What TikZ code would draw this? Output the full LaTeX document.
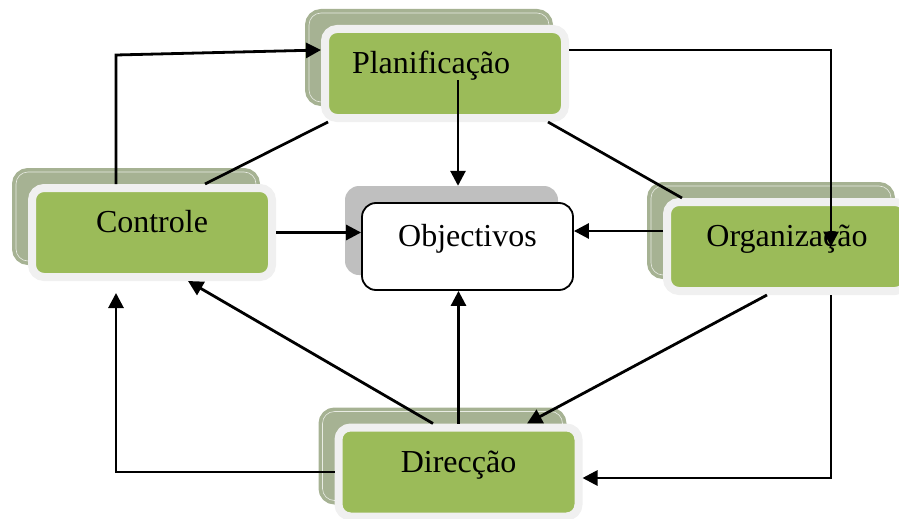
\documentclass[tikz,border=0pt]{standalone}
\usepackage{fontspec}
\setmainfont{Liberation Serif}
\usepackage{xcolor}
\usepackage{tikz}
\usetikzlibrary{arrows.meta,positioning}
\definecolor{cardgreen}{HTML}{9BBB59}
\definecolor{cardrim}{HTML}{F0F0F0}
\definecolor{backgreen}{HTML}{A6B293}
\definecolor{backgray}{HTML}{BFBFBF}

\begin{document}
\begin{tikzpicture}[x=1pt,y=-1pt,
  card/.style={draw=cardrim,line width=8pt,fill=cardgreen,rounded corners=12pt,minimum width=240pt,minimum height=89pt,
    font=\fontsize{32pt}{38pt}\selectfont,text height=24pt,text depth=24pt},
  back/.style={draw=backgreen,double=white!75!backgreen,double distance=0.6pt,line width=3.7pt,fill=backgreen,rounded corners=12pt,
    minimum width=240pt,minimum height=89pt},
  goal/.style={draw,line width=1.8pt,fill=white,rounded corners=14pt,minimum width=211pt,minimum height=87pt,
    font=\fontsize{32pt}{38pt}\selectfont,text height=24pt,text depth=24pt},
  arr/.style={-{Triangle[length=15pt,width=15pt]},line width=2.8pt},
  ln/.style={line width=2.7pt}]
  \useasboundingbox (0,0) rectangle (899,519);
  % shadows
  \node[back] (plan-bg) at (429,57.5) {};
  \node[back] (ctrl-bg) at (136,216.5) {};
  \node[back] (org-bg) at (771,230.5) {};
  \node[back] (dir-bg) at (442.5,456) {};
  \node[fill=backgray,rounded corners=14pt,minimum width=213pt,minimum height=89pt] (obj-bg) at (451.5,230.5) {};
  % boxes
  \node[card,text width=186pt,align=left] (plan) at (445,73.5) {Planificação};
  \node[card] (ctrl) at (152,232.5) {Controle};
  \node[card] (org) at (787,246.5) {Organização};
  \node[card] (dir) at (458.5,472) {Direcção};
  \node[goal] (obj) at (467.5,246.5) {Objectivos};
  % bends
  \coordinate (c1) at (116,55);
  \coordinate (c2) at (831,50);
  \coordinate (c3) at (831,478);
  \coordinate (c4) at (116,472);
  \coordinate (c5) at (116,293);
  % connectors
  \draw[arr] (c1 |- ctrl.north) -- (c1) -- ([yshift=23.5pt]plan.west);
  \draw[arr] (c2 -| plan.east) -- (c2) -- (c2 |- org.center);
  \draw[arr] ([xshift=13pt,yshift=-6.5pt]plan.center) -- ([xshift=6.5pt]obj-bg.north);
  \draw[ln] ([xshift=-117pt]plan.south) -- ([xshift=53pt]ctrl.north);
  \draw[ln] ([xshift=103pt]plan.south) -- ([xshift=-105pt]org.north);
  \draw[arr] (ctrl.east) -- (ctrl.east -| obj.west);
  \draw[arr] ([yshift=15.5pt]org.west) -- ([yshift=15.5pt]obj.east);
  \draw[arr] (dir.north) -- (dir.north |- obj.south);
  \draw[arr] ([xshift=-25.5pt]dir.north) -- ([xshift=36pt]ctrl.south);
  \draw[arr] ([xshift=-20pt]org.south) -- ([xshift=68.5pt]dir.north);
  \draw[arr] (c3 |- org.south) -- (c3) -- (c3 -| dir.east);
  \draw[arr] (c4 -| dir.west) -- (c4) -- (c5);
\end{tikzpicture}
\end{document}
